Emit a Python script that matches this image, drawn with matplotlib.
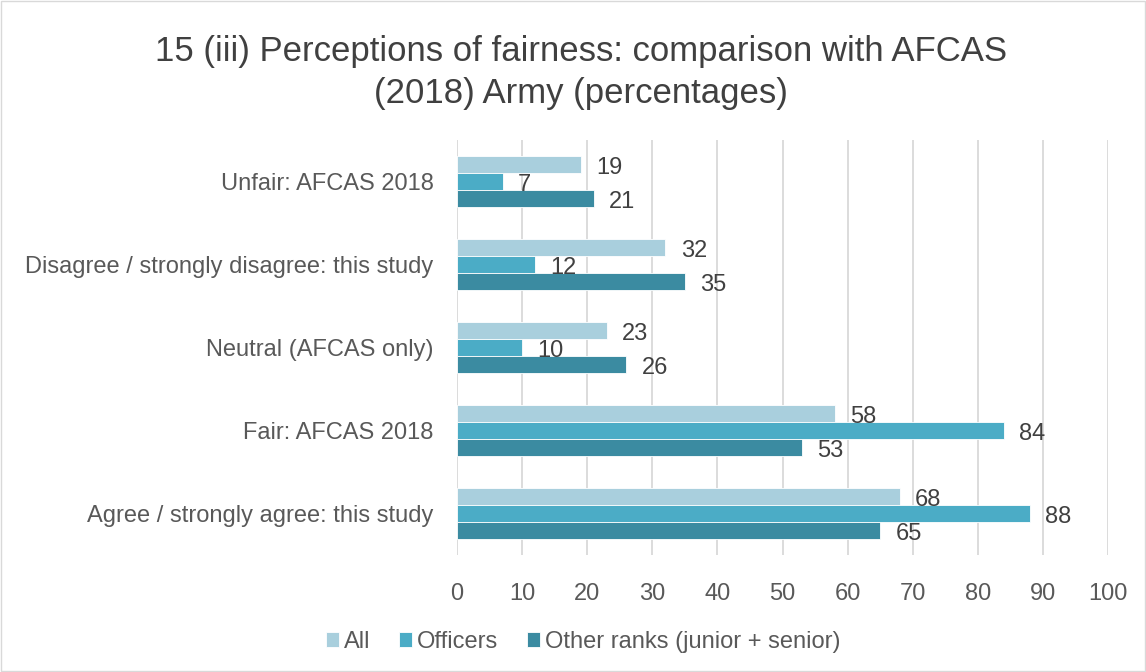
import matplotlib
matplotlib.use("Agg")
import matplotlib.pyplot as plt
import numpy as np

plt.rcParams['font.family'] = ['Liberation Sans', 'DejaVu Sans']

categories = ["Unfair: AFCAS 2018", "Disagree / strongly disagree: this study",
              "Neutral (AFCAS only)", "Fair: AFCAS 2018", "Agree / strongly agree: this study"]
series_names = ["All", "Officers", "Other ranks (junior + senior)"]
all_vals = [19, 32, 23, 58, 68]
officers_vals = [7, 12, 10, 84, 88]
other_vals = [21, 35, 26, 53, 65]
colors = ["#A9CFDD", "#4BACC6", "#3B8BA1"]
title = "15 (iii) Perceptions of fairness: comparison with AFCAS\n(2018) Army (percentages)"

fig = plt.figure(figsize=(11.46, 6.72), dpi=100)
ax = fig.add_axes([0.3988, 0.174, 0.967 - 0.3988, 0.618])

n = len(categories)
y = np.arange(n)
h = 0.205
series = [all_vals, officers_vals, other_vals]
for i, (vals, name, c) in enumerate(zip(series, series_names, colors)):
    pos = y + (i - 1) * h
    bars = ax.barh(pos, vals, height=h, color=c, label=name, edgecolor='white', linewidth=0.6, zorder=3)
    for b, v in zip(bars, vals):
        ax.annotate(str(v), (b.get_width(), b.get_y() + b.get_height() / 2),
                    xytext=(11, -2.5), textcoords='offset points', va='center', ha='left',
                    fontsize=17, color='#404040', zorder=4)

ax.set_ylim(n - 0.5, -0.5)
ax.set_xlim(0, 100)
ax.set_xticks(np.arange(0, 101, 10))
ax.set_yticks(y)
ax.set_yticklabels(categories)
ax.tick_params(axis='both', length=0, labelsize=17, colors='#595959')
ax.tick_params(axis='y', pad=17)
ax.tick_params(axis='x', pad=20)
ax.grid(axis='x', color='#D9D9D9', linewidth=1.3, zorder=0)
for s in ax.spines.values():
    s.set_visible(False)

fig.suptitle(title, fontsize=25, color='#404040', x=0.507, y=0.948, linespacing=1.36)

leg = fig.legend(loc='lower center', bbox_to_anchor=(0.509, -0.003), ncol=3, frameon=False,
                 fontsize=17, handlelength=0.55, handleheight=0.55, handletextpad=0.22,
                 columnspacing=1.2, labelcolor='#595959')

fig.patches.append(plt.Rectangle((0.001, 0.001), 0.998, 0.998, transform=fig.transFigure,
                                 fill=False, edgecolor='#D9D9D9', linewidth=1))
fig.savefig("out.png", dpi=100)
